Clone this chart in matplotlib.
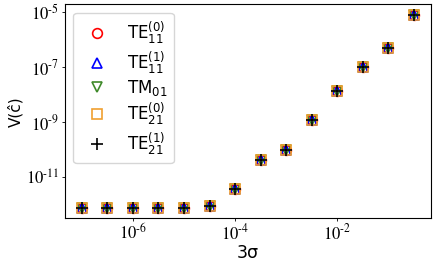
import matplotlib
matplotlib.use("Agg")
import numpy as np
import matplotlib.pyplot as plt
from matplotlib.font_manager import FontProperties
from matplotlib.ticker import FuncFormatter

plt.rcParams['mathtext.fontset'] = 'stix'

# 3*sigma values (half-decade steps)
sigma3 = [1e-7, 3.16e-7, 1e-6, 3.16e-6, 1e-5, 3.16e-5, 1e-4,
          3.16e-4, 1e-3, 3.16e-3, 1e-2, 3.16e-2, 1e-1, 3.16e-1]

V_TE11_0 = [7.5e-13, 7.5e-13, 7.5e-13, 7.5e-13, 7.5e-13, 9.0e-13, 3.6e-12,
            4.2e-11, 1.0e-10, 1.2e-9, 1.35e-8, 1.0e-7, 4.9e-7, 7.8e-6]
V_TE11_1 = [7.5e-13, 7.5e-13, 7.5e-13, 7.5e-13, 7.5e-13, 9.0e-13, 3.6e-12,
            4.2e-11, 1.0e-10, 1.2e-9, 1.35e-8, 1.0e-7, 4.9e-7, 7.8e-6]
V_TM01 = [7.5e-13, 7.5e-13, 7.5e-13, 7.5e-13, 7.5e-13, 9.0e-13, 3.6e-12,
          4.2e-11, 1.0e-10, 1.2e-9, 1.35e-8, 1.0e-7, 4.9e-7, 7.8e-6]
V_TE21_0 = [7.5e-13, 7.5e-13, 7.5e-13, 7.5e-13, 7.5e-13, 9.0e-13, 3.6e-12,
            4.2e-11, 1.0e-10, 1.2e-9, 1.35e-8, 1.0e-7, 4.9e-7, 7.8e-6]
V_TE21_1 = [7.5e-13, 7.5e-13, 7.5e-13, 7.5e-13, 7.5e-13, 9.0e-13, 3.6e-12,
            4.2e-11, 1.0e-10, 1.2e-9, 1.35e-8, 1.0e-7, 4.9e-7, 7.8e-6]

labels = [r'TE$_{11}^{(0)}$', r'TE$_{11}^{(1)}$', r'TM$_{01}$',
          r'TE$_{21}^{(0)}$', r'TE$_{21}^{(1)}$']

xticks = [1e-6, 1e-4, 1e-2]
yticks = [1e-11, 1e-9, 1e-7, 1e-5]

fig = plt.figure(figsize=(4.36, 2.64), dpi=100)
ax = fig.add_axes([0.149, 0.174, 0.840, 0.809])

ms = 7
ax.plot(sigma3, V_TE11_0, 'o', mfc='none', mec='red', ms=ms, mew=1.2, label=labels[0])
ax.plot(sigma3, V_TE11_1, '^', mfc='none', mec='blue', ms=ms, mew=1.2, label=labels[1])
ax.plot(sigma3, V_TM01, 'v', mfc='none', mec='#3f8a2a', ms=ms, mew=1.2, label=labels[2])
ax.plot(sigma3, V_TE21_0, 's', mfc='none', mec='#f0a030', ms=ms, mew=1.2, label=labels[3])
ax.plot(sigma3, V_TE21_1, '+', color='black', ms=ms + 1, mew=1.2, label=labels[4])

ax.set_xscale('log')
ax.set_yscale('log')
ax.set_xlim(10 ** -7.33, 10 ** -0.16)
ax.set_ylim(10 ** -12.49, 10 ** -4.73)
ax.set_xticks(xticks)
ax.set_yticks(yticks)
ax.minorticks_off()

HYPHEN = '\u2010'


def fmt(v, pos):
    e = int(round(np.log10(v)))
    if e < 0:
        return '$10^{' + HYPHEN + str(abs(e)) + '}$'
    return '$10^{' + str(e) + '}$'


ax.xaxis.set_major_formatter(FuncFormatter(fmt))
ax.yaxis.set_major_formatter(FuncFormatter(fmt))
ax.tick_params(labelsize=12, length=2.5, width=0.6)
ax.tick_params(axis='x', pad=1.0)
ax.tick_params(axis='y', pad=1.5)

ax.set_xlabel('3σ', fontsize=12.5, labelpad=1)
ax.set_ylabel('V(ĉ)', fontsize=11, labelpad=2)

leg = ax.legend(loc='upper left', labelspacing=0.15,
                prop=FontProperties(family='DejaVu Sans', size=12, math_fontfamily='dejavusans'))

fig.savefig('out.png', dpi=100)
